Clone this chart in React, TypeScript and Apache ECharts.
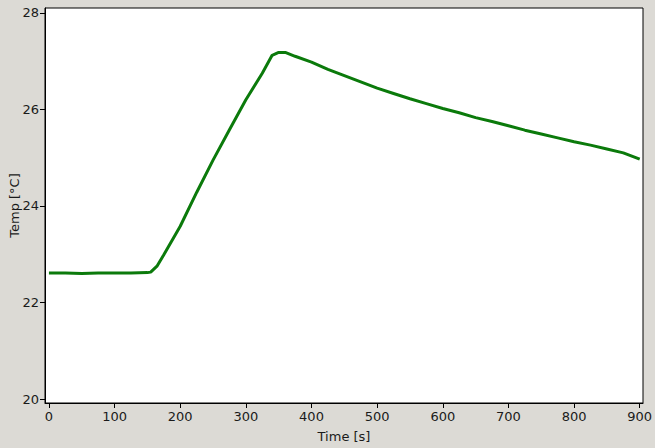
import React, { useEffect, useRef } from "react";
import * as echarts from "echarts";

const timeS = [0, 25, 50, 75, 100, 125, 150, 155, 165, 175, 200, 225, 250, 275, 300, 325, 340, 350, 360, 375, 400, 425, 450, 475, 500, 525, 550, 575, 600, 625, 650, 675, 700, 725, 750, 775, 800, 825, 850, 875, 900];
const tempC = [22.61, 22.61, 22.6, 22.61, 22.61, 22.61, 22.62, 22.63, 22.76, 22.99, 23.58, 24.28, 24.95, 25.58, 26.2, 26.75, 27.12, 27.18, 27.18, 27.1, 26.98, 26.83, 26.7, 26.57, 26.44, 26.33, 26.22, 26.12, 26.02, 25.93, 25.83, 25.75, 25.66, 25.57, 25.49, 25.41, 25.33, 25.26, 25.18, 25.1, 24.97];
const xTicks = [0, 100, 200, 300, 400, 500, 600, 700, 800, 900];
const yTicks = [20, 22, 24, 26, 28];

export default function App() {
  const ref = useRef<HTMLDivElement>(null);
  useEffect(() => {
    const chart = echarts.init(ref.current!, null, { renderer: "svg" });
    const font = "DejaVu Sans";
    chart.setOption({
      animation: false,
      backgroundColor: "#dcdad5",
      grid: {
        left: 45,
        right: 12,
        top: 8,
        bottom: 45,
        outerBoundsMode: "none",
        containLabel: false,
        show: true,
        backgroundColor: "#ffffff",
        borderColor: "#000000",
        borderWidth: 1,
      },
      xAxis: {
        type: "value",
        min: -6,
        max: 905,
        name: "Time [s]",
        nameLocation: "middle",
        nameGap: 27,
        nameMoveOverlap: false,
        nameTextStyle: { fontFamily: font, fontSize: 13, color: "#1a1a1a" },
        axisLine: { show: true, onZero: false, lineStyle: { color: "#000", width: 1 } },
        axisTick: { show: true, length: 5, customValues: xTicks, lineStyle: { color: "#000" } },
        axisLabel: { customValues: xTicks, fontFamily: font, fontSize: 13, color: "#1a1a1a", margin: 7, showMinLabel: true, showMaxLabel: true },
        splitLine: { show: false },
      },
      yAxis: {
        type: "value",
        min: 19.92,
        max: 28.1,
        name: "Temp [°C]",
        nameLocation: "middle",
        nameGap: 24,
        nameMoveOverlap: false,
        nameTextStyle: { fontFamily: font, fontSize: 13, color: "#1a1a1a" },
        axisLine: { show: true, onZero: false, lineStyle: { color: "#000", width: 1 } },
        axisTick: { show: true, length: 5, customValues: yTicks, lineStyle: { color: "#000" } },
        axisLabel: { customValues: yTicks, fontFamily: font, fontSize: 13, color: "#1a1a1a", margin: 6, showMinLabel: true, showMaxLabel: true },
        splitLine: { show: false },
      },
      series: [
        {
          type: "line",
          data: timeS.map((t, i) => [t, tempC[i]]),
          showSymbol: false,
          lineStyle: { color: "#0b7a0b", width: 3 },
          itemStyle: { color: "#0b7a0b" },
        },
      ],
    });
    return () => chart.dispose();
  }, []);
  return <div ref={ref} style={{ width: 655, height: 448, position: "absolute", left: 0, top: 0 }} />;
}
